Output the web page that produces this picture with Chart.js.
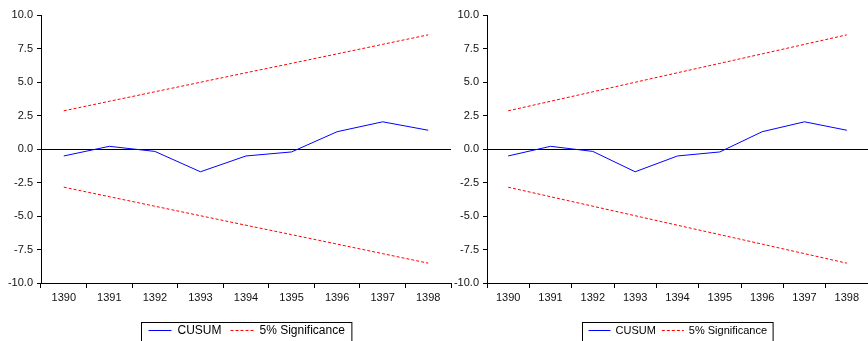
<!DOCTYPE html>
<html>
<head>
<meta charset="utf-8">
<script src="https://cdn.jsdelivr.net/npm/chart.js@4.4.1/dist/chart.umd.min.js"></script>
<style>
  body { margin: 0; background: #fff; }
  #wrap { position: relative; width: 868px; height: 341px; overflow: hidden; }
  canvas { position: absolute; top: 0; }
</style>
</head>
<body>
<div id="wrap">
  <canvas id="left" width="455" height="341" style="left:0px"></canvas>
  <canvas id="right" width="422" height="341" style="left:446px"></canvas>
</div>
<script>
const years = ["1390", "1391", "1392", "1393", "1394", "1395", "1396", "1397", "1398"];
const cusum = [-0.52, 0.2, -0.18, -1.7, -0.52, -0.22, 1.29, 2.03, 1.4];
const upper5 = [2.85, 3.56, 4.27, 4.98, 5.69, 6.39, 7.1, 7.81, 8.52];
const lower5 = [-2.85, -3.56, -4.27, -4.98, -5.69, -6.39, -7.1, -7.81, -8.52];
const yTicks = [-10, -7.5, -5, -2.5, 0, 2.5, 5, 7.5, 10];

const FONT = "'Liberation Sans', Arial, sans-serif";

// legend in a framed box centered under the plot area
const boxLegend = {
  id: "boxLegend",
  afterDraw(chart, args, opts) {
    const c = chart.ctx;
    const area = chart.chartArea;
    const items = chart.data.datasets.filter(d => d.inLegend);
    c.save();
    c.font = opts.fontSize + "px " + FONT;
    let w = opts.pad;
    items.forEach((d, i) => {
      w += opts.lineLen + opts.textGap + c.measureText(d.label).width;
      if (i < items.length - 1) w += opts.itemGap;
    });
    w += opts.pad;
    const x0 = Math.round((area.left + area.right) / 2 - w / 2) + 0.5;
    const y0 = opts.top + 0.5;
    c.strokeStyle = "#000";
    c.lineWidth = 1;
    c.strokeRect(x0, y0, w, 30);
    let x = x0 + opts.pad;
    const ym = opts.top + 8.5;
    items.forEach((d) => {
      c.beginPath();
      c.strokeStyle = d.borderColor;
      c.setLineDash(d.borderDash || []);
      c.moveTo(x, ym);
      c.lineTo(x + opts.lineLen, ym);
      c.stroke();
      c.setLineDash([]);
      x += opts.lineLen + opts.textGap;
      c.fillStyle = "#000";
      c.textBaseline = "middle";
      c.fillText(d.label, x, ym);
      x += c.measureText(d.label).width + opts.itemGap;
    });
    c.restore();
  }
};

function makeChart(id, rightPad, legendOpts) {
  return new Chart(document.getElementById(id).getContext("2d"), {
    type: "line",
    data: {
      labels: years,
      datasets: [
        { label: "CUSUM", data: cusum, borderColor: "#0000ff", borderWidth: 1,
          pointRadius: 0, tension: 0, fill: false, inLegend: true },
        { label: "5% Significance", data: upper5, borderColor: "#ff0000", borderWidth: 1,
          borderDash: [3, 2], pointRadius: 0, tension: 0, fill: false, inLegend: true },
        { label: "5% Significance", data: lower5, borderColor: "#ff0000", borderWidth: 1,
          borderDash: [3, 2], pointRadius: 0, tension: 0, fill: false, inLegend: false }
      ]
    },
    options: {
      responsive: false,
      animation: false,
      layout: { padding: { top: 15, bottom: 38, left: 0, right: rightPad } },
      plugins: {
        legend: { display: false },
        tooltip: { enabled: false },
        boxLegend: legendOpts
      },
      scales: {
        x: {
          offset: true,
          grid: { offset: true, drawOnChartArea: false, tickLength: 5, tickColor: "#000" },
          border: { color: "#000", width: 1 },
          ticks: { color: "#111", font: { family: FONT, size: 11 }, padding: 3, maxRotation: 0 },
          afterFit(s) { s.height = 20; }
        },
        y: {
          min: -10, max: 10,
          afterBuildTicks(s) { s.ticks = yTicks.map(v => ({ value: v })); },
          grid: {
            color: (ctx) => (ctx.tick && ctx.tick.value === 0 ? "#000" : "rgba(0,0,0,0)"),
            tickColor: "#000", tickLength: 4, lineWidth: 1
          },
          border: { color: "#000", width: 1 },
          ticks: { color: "#111", font: { family: FONT, size: 11 }, padding: 4,
                   callback: (v) => Number(v).toFixed(1) },
          afterFit(s) { s.width = 41; }
        }
      }
    },
    plugins: [boxLegend]
  });
}

makeChart("left", 4, { fontSize: 12, pad: 7, lineLen: 23, textGap: 6, itemGap: 9, top: 322 });
makeChart("right", 0, { fontSize: 11, pad: 6, lineLen: 22, textGap: 5, itemGap: 6, top: 322 });
</script>
</body>
</html>
